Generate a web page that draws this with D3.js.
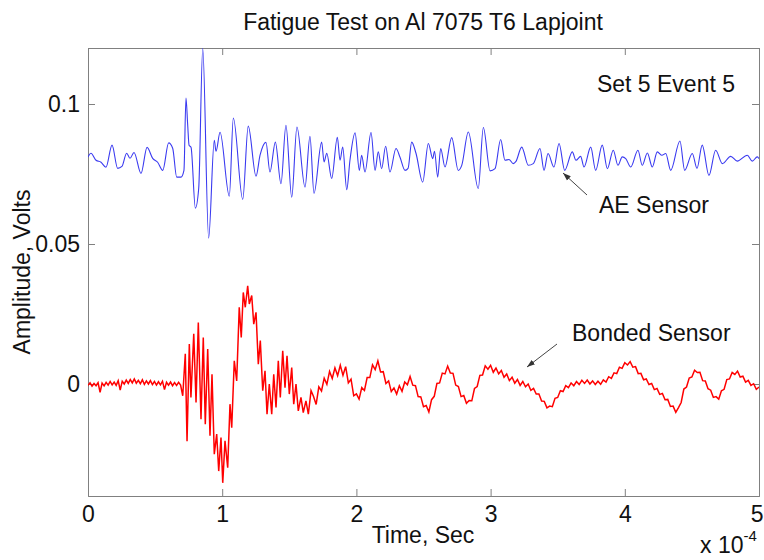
<!DOCTYPE html>
<html>
<head>
<meta charset="utf-8">
<script src="https://cdn.jsdelivr.net/npm/d3@7"></script>
<style>
  body { margin: 0; background: #fff; }
  svg text { font-family: Arial, "Liberation Sans", Helvetica, sans-serif; fill: #111; }
</style>
</head>
<body>
<svg id="chart" width="764" height="560"></svg>
<script>
// time in units of 1e-4 s, amplitude in volts
var xTicks = [0, 1, 2, 3, 4, 5];
var yTicks = [0, 0.05, 0.1];
var yTickLabels = ['0', '0.05', '0.1'];

var aeSensor = [
  [0.000,0.0811],[0.022,0.0824],[0.060,0.0799],[0.097,0.0792],[0.134,0.0774],[0.179,0.0853],[0.221,0.0770],[0.253,0.0777],
  [0.288,0.0824],[0.313,0.0806],[0.343,0.0827],[0.395,0.0752],[0.440,0.0845],[0.482,0.0806],[0.519,0.0792],[0.557,0.0763],
  [0.601,0.0861],[0.631,0.0842],[0.661,0.0739],[0.693,0.0739],[0.715,0.0763],[0.730,0.1021],[0.743,0.0924],[0.753,0.0853],
  [0.768,0.0845],[0.800,0.0628],[0.825,0.0699],[0.855,0.1199],[0.899,0.0521],[0.941,0.0870],[0.954,0.0831],[0.984,0.0899],
  [1.053,0.0671],[1.083,0.0950],[1.153,0.0659],[1.194,0.0921],[1.252,0.0742],[1.282,0.0817],[1.326,0.0863],[1.356,0.0757],
  [1.396,0.0864],[1.438,0.0715],[1.475,0.0924],[1.518,0.0667],[1.557,0.0918],[1.617,0.0703],[1.654,0.0885],[1.684,0.0681],
  [1.741,0.0864],[1.759,0.0793],[1.779,0.0824],[1.816,0.0734],[1.858,0.0881],[1.878,0.0799],[1.898,0.0846],[1.928,0.0694],
  [1.952,0.0799],[1.990,0.0897],[2.022,0.0763],[2.039,0.0817],[2.064,0.0757],[2.109,0.0898],[2.139,0.0763],[2.163,0.0829],
  [2.188,0.0769],[2.218,0.0849],[2.250,0.0757],[2.295,0.0841],[2.325,0.0810],[2.362,0.0763],[2.385,0.0770],[2.412,0.0864],
  [2.444,0.0824],[2.494,0.0721],[2.536,0.0859],[2.569,0.0805],[2.582,0.0831],[2.606,0.0739],[2.628,0.0841],[2.660,0.0775],
  [2.710,0.0880],[2.759,0.0763],[2.785,0.0781],[2.834,0.0900],[2.908,0.0698],[2.946,0.0916],[2.996,0.0761],[3.033,0.0769],
  [3.075,0.0873],[3.107,0.0799],[3.137,0.0802],[3.169,0.0787],[3.189,0.0795],[3.232,0.0846],[3.281,0.0781],[3.318,0.0787],
  [3.368,0.0841],[3.398,0.0763],[3.428,0.0823],[3.472,0.0775],[3.510,0.0859],[3.552,0.0763],[3.609,0.0829],[3.636,0.0799],
  [3.671,0.0813],[3.696,0.0775],[3.746,0.0846],[3.783,0.0763],[3.832,0.0853],[3.870,0.0769],[3.914,0.0835],[3.949,0.0781],
  [3.981,0.0811],[4.007,0.0805],[4.044,0.0775],[4.098,0.0835],[4.130,0.0781],[4.168,0.0825],[4.205,0.0775],[4.242,0.0829],
  [4.277,0.0817],[4.305,0.0823],[4.342,0.0763],[4.411,0.0868],[4.446,0.0763],[4.503,0.0823],[4.538,0.0770],[4.577,0.0853],
  [4.627,0.0745],[4.677,0.0835],[4.727,0.0787],[4.789,0.0813],[4.838,0.0796],[4.913,0.0817],[4.950,0.0796],[4.987,0.0811],
  [5.000,0.0805]
];

var bondedSensor = [
  // quiet part before the burst
  [0.000,-0.0005],[0.015,0.0004],[0.030,-0.0008],[0.045,0.0002],[0.060,-0.0006],[0.075,0.0005],[0.090,-0.0030],[0.105,0.0003],
  [0.120,-0.0007],[0.135,0.0006],[0.150,-0.0004],[0.165,0.0009],[0.180,-0.0003],[0.195,0.0007],[0.210,-0.0005],[0.225,0.0012],
  [0.240,-0.0022],[0.255,0.0010],[0.270,0.0000],[0.285,0.0014],[0.300,0.0002],[0.315,0.0016],[0.330,0.0004],[0.345,0.0018],
  [0.360,0.0003],[0.375,0.0013],[0.390,0.0001],[0.405,0.0015],[0.420,-0.0001],[0.435,0.0011],[0.450,0.0000],[0.465,0.0012],
  [0.480,-0.0002],[0.495,0.0009],[0.510,-0.0004],[0.525,0.0008],[0.540,-0.0003],[0.555,0.0010],[0.570,-0.0020],[0.585,0.0006],
  [0.600,-0.0004],[0.615,0.0007],[0.630,-0.0006],[0.645,0.0005],[0.660,-0.0005],[0.675,0.0006],[0.690,-0.0004],
  // burst
  [0.706,-0.0042],[0.725,0.0108],[0.738,-0.0204],[0.755,0.0143],[0.767,-0.0048],[0.788,0.0179],[0.805,-0.0066],[0.822,0.0220],
  [0.842,-0.0126],[0.859,0.0166],[0.874,-0.0144],[0.892,0.0125],[0.909,-0.0185],[0.924,0.0035],[0.941,-0.0251],[0.959,-0.0179],
  [0.974,-0.0311],[0.991,-0.0191],[1.004,-0.0353],[1.021,-0.0203],[1.041,-0.0299],[1.058,-0.0072],[1.071,-0.0156],[1.090,0.0083],
  [1.108,0.0011],[1.127,0.0274],[1.142,0.0166],[1.157,0.0327],[1.172,0.0274],[1.190,0.0351],[1.202,0.0286],[1.220,0.0316],
  [1.235,0.0214],[1.252,0.0256],[1.269,0.0071],[1.284,0.0155],[1.302,-0.0024],[1.319,0.0047],[1.334,-0.0108],[1.351,0.0000],
  [1.369,-0.0108],[1.384,0.0035],[1.401,-0.0084],[1.418,0.0083],[1.433,-0.0048],[1.451,0.0119],[1.468,-0.0013],[1.483,0.0101],
  [1.500,-0.0036],[1.518,0.0059],[1.533,-0.0072],[1.550,0.0000],[1.567,-0.0096],[1.587,-0.0048],[1.604,-0.0102],[1.624,-0.0060],
  [1.642,-0.0108],[1.662,-0.0024],
  // ringing tail
  [1.68,-0.0044],[1.70,-0.0073],[1.72,-0.0010],[1.74,-0.0025],[1.76,0.0021],[1.78,-0.0001],[1.80,0.0045],[1.82,0.0020],
  [1.84,0.0058],[1.86,0.0030],[1.88,0.0067],[1.90,0.0031],[1.92,0.0062],[1.94,0.0004],[1.96,0.0017],[1.98,-0.0042],
  [2.00,-0.0035],[2.02,-0.0054],[2.04,-0.0013],[2.06,-0.0023],[2.08,0.0023],[2.10,0.0023],[2.12,0.0068],[2.14,0.0051],
  [2.16,0.0083],[2.18,0.0043],[2.20,0.0044],[2.22,0.0002],[2.24,0.0011],[2.26,-0.0027],[2.28,-0.0014],[2.30,-0.0036],
  [2.32,-0.0006],[2.34,-0.0026],[2.36,0.0007],[2.38,-0.0003],[2.40,0.0027],[2.42,-0.0004],[2.44,-0.0006],[2.46,-0.0045],
  [2.48,-0.0046],[2.50,-0.0081],[2.52,-0.0077],[2.54,-0.0100],[2.56,-0.0056],[2.58,-0.0044],[2.60,0.0002],[2.62,0.0004],
  [2.64,0.0039],[2.66,0.0036],[2.68,0.0064],[2.70,0.0039],[2.72,0.0038],[2.74,-0.0004],[2.76,-0.0009],[2.78,-0.0045],
  [2.80,-0.0041],[2.82,-0.0069],[2.84,-0.0059],[2.86,-0.0060],[2.88,-0.0016],[2.90,-0.0009],[2.92,0.0031],[2.94,0.0032],
  [2.96,0.0065],[2.98,0.0053],[3.00,0.0067],[3.02,0.0042],[3.04,0.0057],[3.06,0.0036],[3.08,0.0048],[3.10,0.0024],
  [3.12,0.0036],[3.14,0.0012],[3.16,0.0024],[3.18,0.0003],[3.20,0.0016],[3.22,-0.0005],[3.24,0.0009],[3.26,-0.0010],
  [3.28,0.0000],[3.30,-0.0023],[3.32,-0.0016],[3.34,-0.0036],[3.36,-0.0036],[3.38,-0.0061],[3.40,-0.0062],[3.42,-0.0085],
  [3.44,-0.0079],[3.46,-0.0081],[3.48,-0.0051],[3.50,-0.0048],[3.52,-0.0024],[3.54,-0.0027],[3.56,-0.0006],[3.58,-0.0013],
  [3.60,0.0004],[3.62,-0.0006],[3.64,0.0009],[3.66,-0.0002],[3.68,0.0013],[3.70,0.0002],[3.72,0.0014],[3.74,0.0000],
  [3.76,0.0011],[3.78,-0.0002],[3.80,0.0010],[3.82,-0.0001],[3.84,0.0015],[3.86,0.0007],[3.88,0.0026],[3.90,0.0020],
  [3.92,0.0040],[3.94,0.0037],[3.96,0.0060],[3.98,0.0056],[4.00,0.0076],[4.02,0.0068],[4.04,0.0080],[4.06,0.0060],
  [4.08,0.0062],[4.10,0.0037],[4.12,0.0038],[4.14,0.0015],[4.16,0.0018],[4.18,-0.0002],[4.20,0.0002],[4.22,-0.0020],
  [4.24,-0.0016],[4.26,-0.0037],[4.28,-0.0034],[4.30,-0.0056],[4.32,-0.0055],[4.34,-0.0080],[4.36,-0.0079],[4.38,-0.0101],
  [4.40,-0.0084],[4.42,-0.0066],[4.44,-0.0018],[4.46,-0.0011],[4.48,0.0021],[4.50,0.0025],[4.52,0.0049],[4.54,0.0041],
  [4.56,0.0042],[4.58,0.0012],[4.60,0.0011],[4.62,-0.0017],[4.64,-0.0022],[4.66,-0.0048],[4.68,-0.0045],[4.70,-0.0054],
  [4.72,-0.0024],[4.74,-0.0019],[4.76,0.0016],[4.78,0.0018],[4.80,0.0041],[4.82,0.0034],[4.84,0.0046],[4.86,0.0025],
  [4.88,0.0028],[4.90,0.0007],[4.92,0.0013],[4.94,-0.0005],[4.96,0.0001],[4.98,-0.0019],[5.00,-0.0011]
];

var margin = {top: 48, right: 5, bottom: 64, left: 88};
var width = 764 - margin.left - margin.right;
var height = 560 - margin.top - margin.bottom;

var svg = d3.select('#chart');
var g = svg.append('g').attr('transform', 'translate(' + margin.left + ',' + margin.top + ')');

var x = d3.scaleLinear().domain([0, 5]).range([0, width]);
var y = d3.scaleLinear().domain([-0.04, 0.12]).range([height, 0]);

g.append('clipPath').attr('id', 'plotclip')
  .append('rect').attr('width', width).attr('height', height);

// ticks, MATLAB style: pointing inward on all four sides
var tickLen = 7;
function drawAxis(axis, tx) {
  var a = g.append('g').attr('transform', tx).call(axis);
  a.select('.domain').attr('stroke', '#808080');
  a.selectAll('.tick line').attr('stroke', '#808080');
  a.selectAll('text').style('font-size', '23px').attr('fill', '#111');
  return a;
}
var xBottom = drawAxis(d3.axisBottom(x).tickValues(xTicks).tickSize(-tickLen).tickPadding(10).tickFormat(d3.format('d')),
  'translate(0,' + height + ')');
// last label sits against the window edge
xBottom.selectAll('.tick text').filter(function(d) { return d === 5; })
  .attr('text-anchor', 'end').attr('x', 4);
drawAxis(d3.axisTop(x).tickValues(xTicks).tickSize(-tickLen).tickFormat(''), 'translate(0,0)');
drawAxis(d3.axisLeft(y).tickValues(yTicks).tickSize(-tickLen).tickPadding(8)
  .tickFormat(function(d, i) { return yTickLabels[i]; }), 'translate(0,0)');
drawAxis(d3.axisRight(y).tickValues(yTicks).tickSize(-tickLen).tickFormat(''), 'translate(' + width + ',0)');

var plot = g.append('g').attr('clip-path', 'url(#plotclip)');

var aeLine = d3.line()
  .x(function(d) { return x(d[0]); })
  .y(function(d) { return y(d[1]); })
  .curve(d3.curveMonotoneX);

var bondedLine = d3.line()
  .x(function(d) { return x(d[0]); })
  .y(function(d) { return y(d[1]); });

plot.append('path').datum(aeSensor)
  .attr('d', aeLine).attr('fill', 'none')
  .attr('stroke', '#3a3af0').attr('stroke-width', 1.1);

plot.append('path').datum(bondedSensor)
  .attr('d', bondedLine).attr('fill', 'none')
  .attr('stroke', '#ff0000').attr('stroke-width', 1.5);

// title and labels
svg.append('text').attr('x', 423).attr('y', 30).attr('text-anchor', 'middle')
  .style('font-size', '23px').text('Fatigue Test on Al 7075 T6 Lapjoint');

svg.append('text').attr('x', 423).attr('y', 543).attr('text-anchor', 'middle')
  .style('font-size', '23px').text('Time, Sec');

svg.append('text').attr('transform', 'translate(30,272) rotate(-90)').attr('text-anchor', 'middle')
  .style('font-size', '23px').text('Amplitude, Volts');

var mult = svg.append('text').attr('x', 700).attr('y', 553).style('font-size', '23px');
mult.append('tspan').text('x 10');
mult.append('tspan').attr('dy', -12).style('font-size', '15px').text('-4');

svg.append('text').attr('x', 735).attr('y', 92).attr('text-anchor', 'end')
  .style('font-size', '23px').text('Set 5 Event 5');

// annotations with arrows
var defs = svg.append('defs');
defs.append('marker').attr('id', 'head')
  .attr('viewBox', '0 0 10 10').attr('refX', 10).attr('refY', 5)
  .attr('markerWidth', 8).attr('markerHeight', 8).attr('orient', 'auto')
  .append('path').attr('d', 'M0,1.5L10,5L0,8.5Z').attr('fill', '#333');

svg.append('line').attr('x1', 587).attr('y1', 195).attr('x2', 563).attr('y2', 173)
  .attr('stroke', '#444').attr('stroke-width', 1).attr('marker-end', 'url(#head)');
svg.append('text').attr('x', 599).attr('y', 213).style('font-size', '23px').text('AE Sensor');

svg.append('line').attr('x1', 557).attr('y1', 344).attr('x2', 527).attr('y2', 367)
  .attr('stroke', '#444').attr('stroke-width', 1).attr('marker-end', 'url(#head)');
svg.append('text').attr('x', 572).attr('y', 341).style('font-size', '23px').text('Bonded Sensor');
</script>
</body>
</html>
